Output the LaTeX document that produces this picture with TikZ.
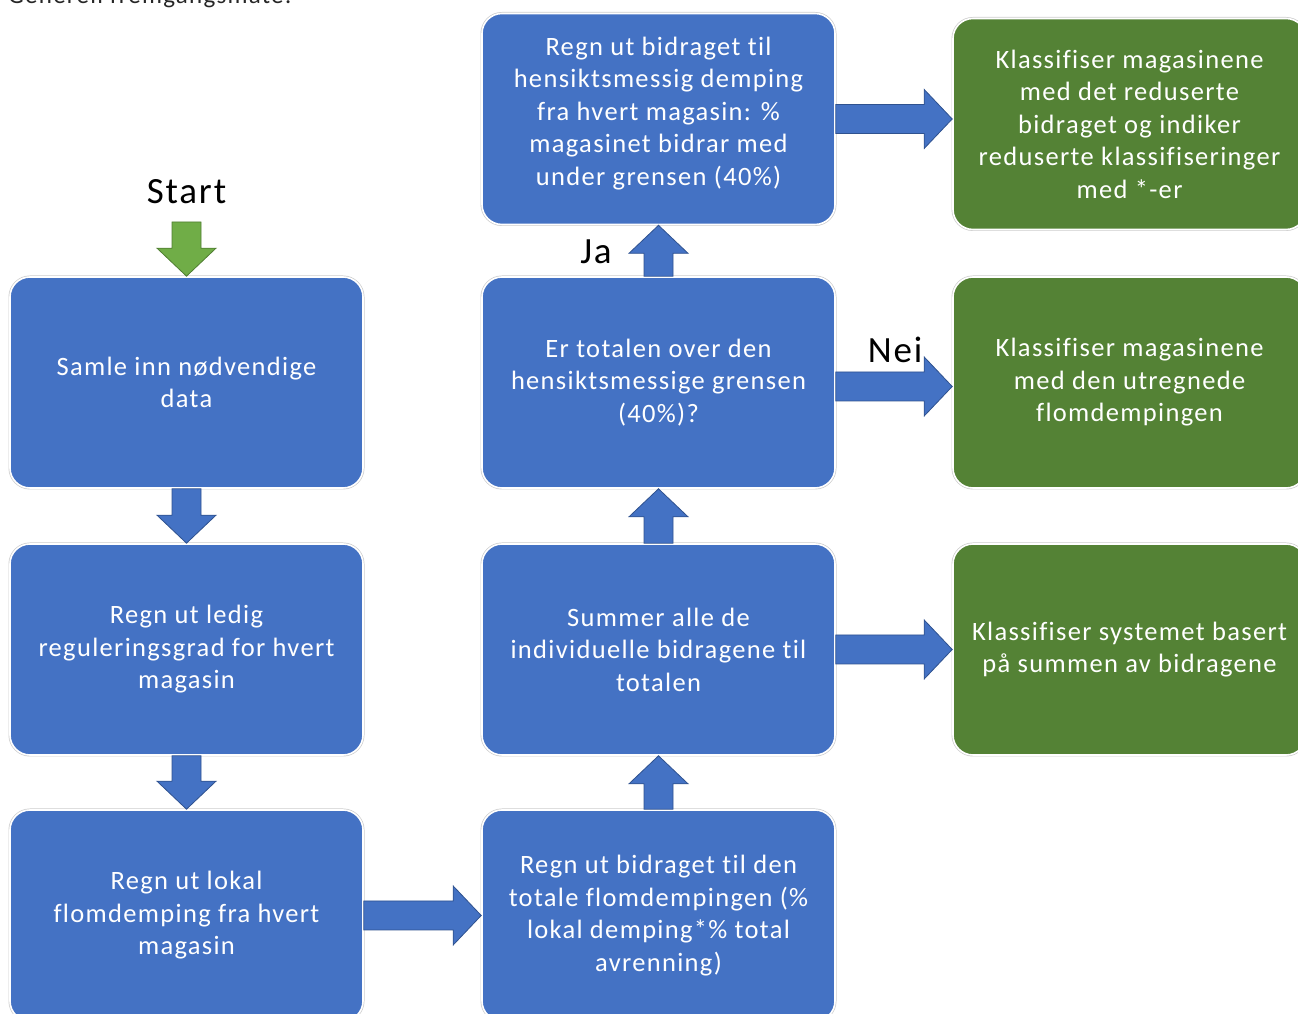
\documentclass[tikz,border=0pt]{standalone}
\usepackage{fontspec}
\setmainfont[Ligatures=CommonOff,LetterSpace=5]{Carlito}
\usetikzlibrary{calc}
\definecolor{boxblue}{HTML}{4472C4}
\definecolor{boxgreen}{HTML}{548235}
\definecolor{arrowedge}{HTML}{2F528F}
\definecolor{startgreen}{HTML}{70AD47}
\definecolor{startedge}{HTML}{507E32}
\tikzset{
  stepbox/.style={rounded corners=20bp,minimum width=353bp,minimum height=211bp,
    fill=boxblue,preaction={draw=black!20,line width=3bp},draw=white,line width=1.6bp,
    text=white,align=center,inner sep=0bp,font=\fontsize{26.5bp}{32.5bp}\selectfont},
  endbox/.style={stepbox,fill=boxgreen},
  answer/.style={inner sep=0bp,font=\fontsize{37bp}{44bp}\selectfont},
  blockarrow/.style={fill=boxblue,draw=arrowedge,line width=0.8bp,line join=miter,
    to path={($(\tikztostart)!14.5bp!90:(\tikztotarget)$)
      -- ($(\tikztotarget)!28bp!(\tikztostart)!14.5bp!90:(\tikztotarget)$)
      -- ($(\tikztotarget)!28bp!(\tikztostart)!29.5bp!90:(\tikztotarget)$)
      -- (\tikztotarget)
      -- ($(\tikztotarget)!28bp!(\tikztostart)!29.5bp!-90:(\tikztotarget)$)
      -- ($(\tikztotarget)!28bp!(\tikztostart)!14.5bp!-90:(\tikztotarget)$)
      -- ($(\tikztostart)!14.5bp!-90:(\tikztotarget)$) -- cycle}},
  startarrow/.style={blockarrow,fill=startgreen,draw=startedge},
}
\begin{document}
\begin{tikzpicture}[line join=bevel,]
\useasboundingbox (0bp,0bp) rectangle (1298bp,1014bp);
%%
\node (node_title) at (8bp,1010bp) [anchor=base west,inner sep=0bp,text=black!85,font=\fontsize{25bp}{30bp}\selectfont] {Generell fremgangsmåte:};
  \node (node_start) at (186.5bp,822bp) [answer] {Start};
  \coordinate (start_tail) at (186.5bp,792bp);
  \node (node_samle) at (186.5bp,631.5bp) [stepbox] {Samle inn nødvendige\\data};
  \node (node_ledig) at (186.5bp,364.5bp) [stepbox] {Regn ut ledig\\reguleringsgrad for hvert\\magasin};
  \node (node_lokal) at (186.5bp,98.5bp) [stepbox] {Regn ut lokal\\flomdemping fra hvert\\magasin};
  \node (node_bidrag) at (658.5bp,98.5bp) [stepbox] {Regn ut bidraget til den\\totale flomdempingen (\%\\lokal demping*\% total\\avrenning)};
  \node (node_summer) at (658.5bp,364.5bp) [stepbox] {Summer alle de\\individuelle bidragene til\\totalen};
  \node (node_total) at (658.5bp,631.5bp) [stepbox] {Er totalen over den\\hensiktsmessige grensen\\(40\%)?};
  \node (node_hensikt) at (658.5bp,895bp) [stepbox,text depth=16bp] {Regn ut bidraget til\\hensiktsmessig demping\\fra hvert magasin: \%\\magasinet bidrar med\\under grensen (40\%)};
  \node (node_redusert) at (1129.5bp,890bp) [endbox] {Klassifiser magasinene\\med det reduserte\\bidraget og indiker\\reduserte klassifiseringer\\med *-er};
  \node (node_utregnet) at (1129.5bp,631.5bp) [endbox] {Klassifiser magasinene\\med den utregnede\\flomdempingen};
  \node (node_system) at (1129.5bp,364.5bp) [endbox] {Klassifiser systemet basert\\på summen av bidragene};
  \node (node_ja) at (596bp,762bp) [answer] {Ja};
  \node (node_nei) at (895bp,664bp) [answer] {Nei};
  \draw [startarrow] (start_tail) to (node_samle.north);
  \draw [blockarrow] (node_samle.south) to (node_ledig.north);
  \draw [blockarrow] (node_ledig.south) to (node_lokal.north);
  \draw [blockarrow] (node_lokal.east) to (node_bidrag.west);
  \draw [blockarrow] (node_bidrag.north) to (node_summer.south);
  \draw [blockarrow] (node_summer.north) to (node_total.south);
  \draw [blockarrow] (node_total.north) to (node_hensikt.south);
  \draw [blockarrow] (node_hensikt.east) to (node_hensikt.east -| node_redusert.west);
  \draw [blockarrow] ([yshift=-4bp]node_total.east) to ([yshift=-4bp]node_utregnet.west);
  \draw [blockarrow] (node_summer.east) to (node_system.west);
%
\end{tikzpicture}
\end{document}
